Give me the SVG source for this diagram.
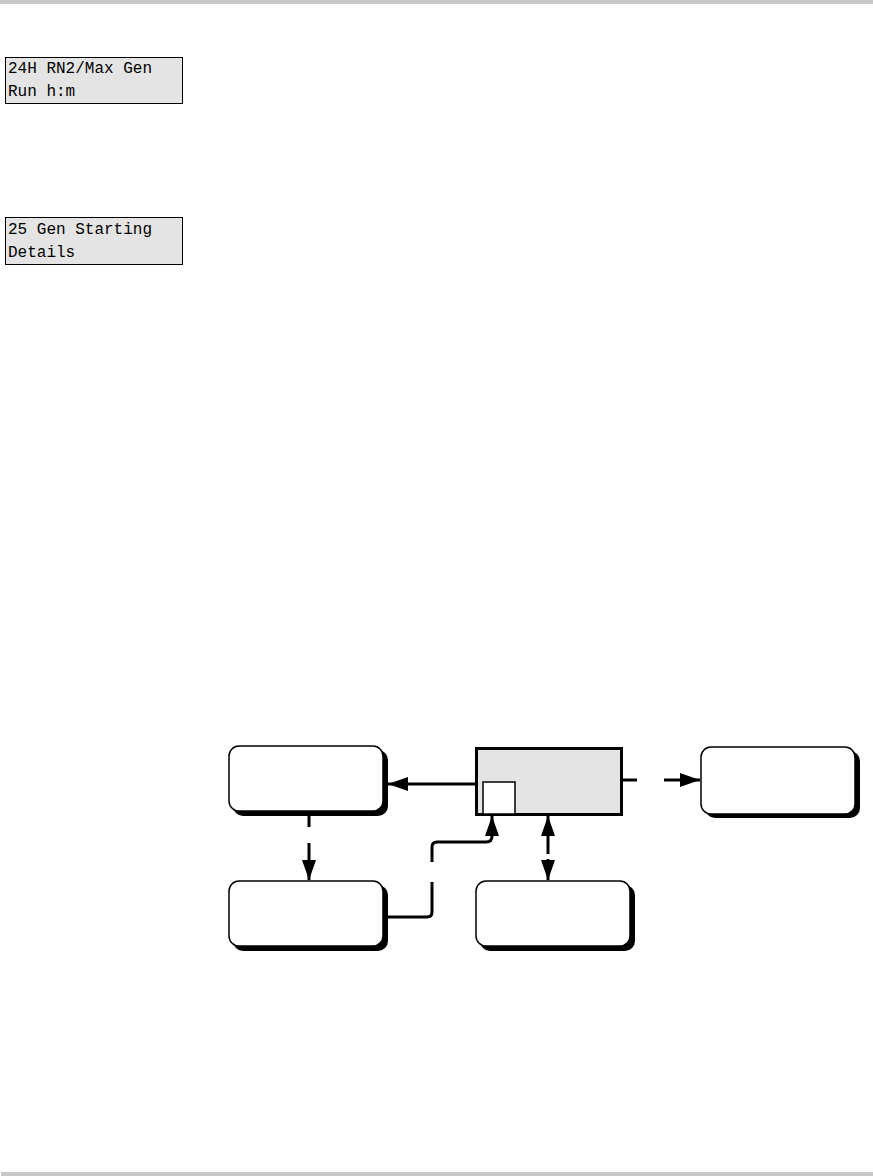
<svg xmlns="http://www.w3.org/2000/svg" width="873" height="1176" viewBox="0 0 873 1176">
<style>
.bar{fill:#c8c8c8}
.lcd{fill:#e4e4e4;stroke:#000;stroke-width:1}
.lcdt{font-family:"Liberation Mono","DejaVu Sans Mono",monospace;font-size:16px;fill:#000}
.shadow{fill:#000}
.node{fill:#fff;stroke:#000;stroke-width:1.5}
.conn{fill:none;stroke:#000;stroke-width:3}
</style>
<defs>
<marker id="ah" markerUnits="userSpaceOnUse" markerWidth="20" markerHeight="14" refX="20" refY="7" orient="auto">
<path d="M0,0 L20,7 L0,14 z" fill="#000"/>
</marker>
</defs>
<rect width="873" height="1176" fill="#fff"/>
<rect class="bar" x="0" y="0" width="873" height="4"/>
<rect class="bar" x="1" y="1172" width="872" height="4"/>

<g id="lcd1">
<rect class="lcd" x="5.5" y="57.5" width="177" height="46"/>
<text class="lcdt" x="8" y="73">24H RN2/Max Gen</text>
<text class="lcdt" x="8" y="96">Run h:m</text>
</g>
<g id="lcd2">
<rect class="lcd" x="5.5" y="217.5" width="177" height="47"/>
<text class="lcdt" x="8" y="234">25 Gen Starting</text>
<text class="lcdt" x="8" y="257">Details</text>
</g>

<g id="nodeA">
<rect class="shadow" x="233" y="750" width="155" height="66" rx="10"/>
<rect class="node" x="229" y="746" width="154" height="65" rx="10"/>
</g>
<g id="nodeCenter">
<rect x="476.5" y="748.5" width="145" height="66" fill="#e4e4e4" stroke="#000" stroke-width="3"/>
<rect x="483" y="782" width="32" height="32" fill="#fff" stroke="#000" stroke-width="1.5"/>
</g>
<g id="nodeRight">
<rect class="shadow" x="705" y="751" width="155" height="67" rx="10"/>
<rect class="node" x="701" y="747" width="154" height="67" rx="10"/>
</g>
<g id="nodeBottomLeft">
<rect class="shadow" x="233" y="885" width="155" height="66" rx="10"/>
<rect class="node" x="229" y="881" width="154" height="65" rx="10"/>
</g>
<g id="nodeBottomMid">
<rect class="shadow" x="480" y="885" width="155" height="66" rx="10"/>
<rect class="node" x="476" y="881" width="154" height="65" rx="10"/>
</g>

<g id="connectors">
<path class="conn" d="M476,784 H388" marker-end="url(#ah)"/>
<path class="conn" d="M622,780 H637"/>
<path class="conn" d="M664,780 H700" marker-end="url(#ah)"/>
<path class="conn" d="M309,812 V827"/>
<path class="conn" d="M309,843 V880" marker-end="url(#ah)"/>
<path class="conn" d="M383,917 H427 Q432,917 432,912 V882 M432,862 V847 Q432,842 437,842 H486 Q492,842 492,836 V816" marker-end="url(#ah)"/>
<path class="conn" d="M548,854 V816" marker-end="url(#ah)"/>
<path class="conn" d="M548,859 V880" marker-end="url(#ah)"/>
</g>
</svg>
